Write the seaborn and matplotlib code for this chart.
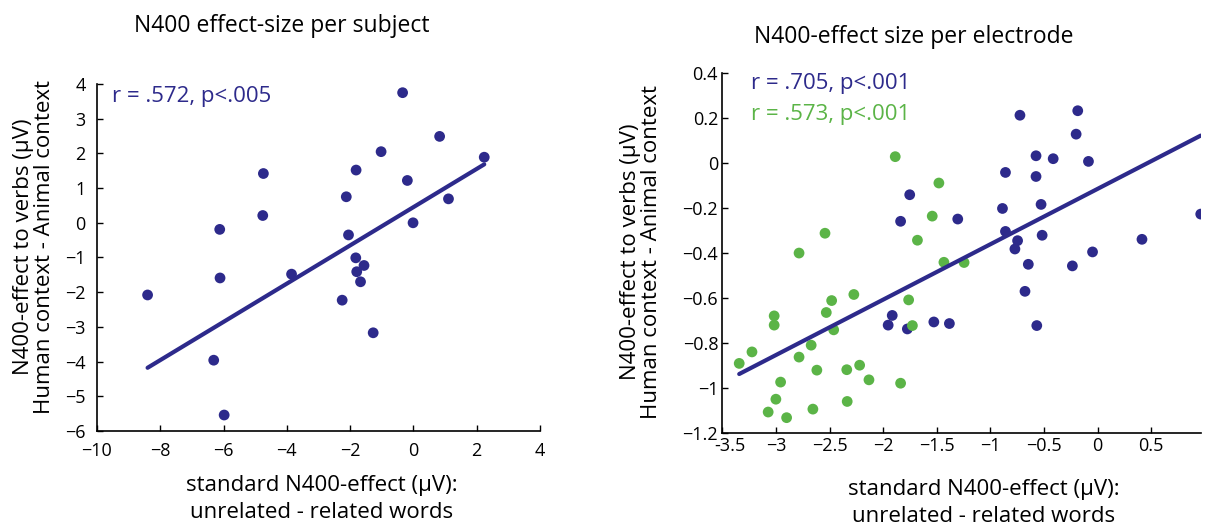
import matplotlib
matplotlib.use("Agg")
import matplotlib.pyplot as plt
import matplotlib.transforms as mtransforms
import seaborn as sns
import numpy as np
import pandas as pd

# ---------------- data ----------------
# Left panel: per subject
subj_x = [-0.34, 0.83, -1.02, 2.24, -4.74, -1.81, -0.19, -2.12, 1.11, -4.76, -0.01, -6.12,
          -2.05, -1.82, -1.56, -3.85, -1.79, -6.11, -1.67, -8.40, -2.25, -1.27, -6.31, -5.98]
subj_y = [3.75, 2.49, 2.05, 1.89, 1.42, 1.52, 1.22, 0.75, 0.69, 0.21, 0.00, -0.19,
          -0.35, -1.01, -1.23, -1.48, -1.41, -1.59, -1.70, -2.08, -2.23, -3.17, -3.96, -5.54]
subj_fit = [0.551, 0.45]  # slope, intercept

# Right panel: per electrode (two groups)
elec_blue_x = [-0.724, -0.185, -0.200, -0.574, -0.414, -0.085, -0.859, -0.574, -1.752, -0.887,
               -0.527, -1.837, -1.304, -0.859, -0.517, -0.746, -0.771, -0.047, 0.414, 0.962,
               -0.646, -0.235, -0.677, -1.915, -1.953, -1.527, -1.382, -1.774, -0.567]
elec_blue_y = [0.211, 0.231, 0.127, 0.031, 0.018, 0.006, -0.043, -0.061, -0.142, -0.203,
               -0.185, -0.260, -0.250, -0.305, -0.322, -0.346, -0.383, -0.396, -0.340, -0.228,
               -0.451, -0.458, -0.571, -0.678, -0.721, -0.707, -0.714, -0.738, -0.723]
elec_green_x = [-1.887, -1.480, -1.542, -2.542, -1.680, -2.784, -1.433, -1.245, -2.273, -2.480,
                -1.762, -2.530, -3.016, -3.016, -2.461, -1.727, -2.671, -3.223, -2.784, -3.342,
                -2.618, -2.339, -2.219, -2.132, -1.837, -2.956, -3.000, -2.335, -2.655, -3.072,
                -2.900]
elec_green_y = [0.027, -0.090, -0.237, -0.313, -0.344, -0.401, -0.442, -0.443, -0.585, -0.612,
                -0.609, -0.665, -0.680, -0.721, -0.742, -0.723, -0.810, -0.840, -0.863, -0.891,
                -0.921, -0.919, -0.899, -0.964, -0.979, -0.974, -1.050, -1.060, -1.094, -1.107,
                -1.132]
elec_fit = [0.246, -0.116]  # slope, intercept

left_title = "N400 effect-size per subject"
right_title = "N400-effect size per electrode"
ylabel = "N400-effect to verbs (\u03bcV)\nHuman context - Animal context"
xlabel = "standard N400-effect (\u03bcV):\nunrelated - related words"
left_stat = "r = .572, p<.005"
right_stat_blue = "r = .705, p<.001"
right_stat_green = "r = .573, p<.001"

left_xticks = [-10, -8, -6, -4, -2, 0, 2, 4]
left_xticklabels = ["\u221210", "\u22128", "\u22126", "\u22124", "\u22122", "0", "2", "4"]
left_yticks = [4, 3, 2, 1, 0, -1, -2, -3, -4, -5, -6]
left_yticklabels = ["4", "3", "2", "1", "0", "\u22121", "\u22122", "\u22123", "\u22124", "\u22125", "\u22126"]
right_xticks = [-3.5, -3, -2.5, -2, -1.5, -1, -0.5, 0, 0.5]
right_xticklabels = ["-3.5", "\u22123", "\u22122.5", "\u22122", "\u22121.5", "\u22121", "\u22120.5", "0", "0.5"]
right_yticks = [0.4, 0.2, 0, -0.2, -0.4, -0.6, -0.8, -1, -1.2]
right_yticklabels = ["0.4", "0.2", "0", "\u22120.2", "\u22120.4", "\u22120.6", "\u22120.8", "\u22121", "\u22121.2"]

# ---------------- style ----------------
sns.set_theme(style="ticks")
plt.rcParams["font.family"] = ["Open Sans", "DejaVu Sans"]
plt.rcParams["axes.unicode_minus"] = True
plt.rcParams["text.color"] = "black"
plt.rcParams["xtick.color"] = "black"
plt.rcParams["ytick.color"] = "black"

NAVY = "#2d2a8b"
GREEN = "#5bb447"

fig = plt.figure(figsize=(12.06, 5.27), dpi=100)
axL = fig.add_axes([0.0804, 0.1822, 0.3673, 0.6584])
axR = fig.add_axes([0.5989, 0.1784, 0.3970, 0.6837])

def style_axis(ax, xpad, ypad):
    sns.despine(ax=ax)
    for s in ("left", "bottom"):
        ax.spines[s].set_linewidth(1.2)
        ax.spines[s].set_color("black")
    ax.tick_params(direction="in", length=4, width=1.0, colors="black", labelsize=13)
    ax.tick_params(axis="x", pad=xpad)
    ax.tick_params(axis="y", pad=ypad)

# Left panel
dfL = pd.DataFrame({"x": subj_x, "y": subj_y})
sns.scatterplot(data=dfL, x="x", y="y", ax=axL, color=NAVY, s=60, edgecolor="none", zorder=3)
lx = np.array([min(subj_x), max(subj_x)])
sns.lineplot(x=lx, y=subj_fit[0] * lx + subj_fit[1], ax=axL, color=NAVY, linewidth=3.0, zorder=4)
axL.set_xlim(-10, 4)
axL.set_ylim(-6, 4)
axL.set_xticks(left_xticks)
axL.set_xticklabels(left_xticklabels)
axL.set_yticks(left_yticks)
axL.set_yticklabels(left_yticklabels)
axL.set_xlabel("")
axL.set_ylabel("")
style_axis(axL, xpad=8, ypad=8)
axL.text(0.035, 0.965, left_stat, transform=axL.transAxes, color=NAVY, fontsize=16,
         ha="left", va="center")

# Right panel
dfR = pd.DataFrame({"x": elec_blue_x + elec_green_x,
                    "y": elec_blue_y + elec_green_y,
                    "grp": ["blue"] * len(elec_blue_x) + ["green"] * len(elec_green_x)})
sns.scatterplot(data=dfR, x="x", y="y", hue="grp", palette={"blue": NAVY, "green": GREEN},
                ax=axR, s=60, edgecolor="none", legend=False, zorder=3)
allx = elec_blue_x + elec_green_x
rx = np.array([min(allx), max(allx)])
sns.lineplot(x=rx, y=elec_fit[0] * rx + elec_fit[1], ax=axR, color=NAVY, linewidth=3.0, zorder=4)
axR.set_xlim(-3.5, 0.965)
axR.set_ylim(-1.2, 0.4)
axR.set_xticks(right_xticks)
axR.set_xticklabels(right_xticklabels)
axR.set_yticks(right_yticks)
axR.set_yticklabels(right_yticklabels)
axR.set_xlabel("")
axR.set_ylabel("")
style_axis(axR, xpad=3, ypad=3)
# nudge the first x tick label right so it clears the lowest y tick label
first = axR.get_xticklabels()[0]
first.set_transform(first.get_transform() + mtransforms.ScaledTranslation(8 / 100, 0, fig.dpi_scale_trans))
axR.text(0.06, 0.97, right_stat_blue, transform=axR.transAxes, color=NAVY, fontsize=16,
         ha="left", va="center")
axR.text(0.06, 0.885, right_stat_green, transform=axR.transAxes, color=GREEN, fontsize=16,
         ha="left", va="center")

# Titles and labels as figure text
fig.text(282 / 1206, 1 - 26 / 527, left_title, ha="center", va="center", fontsize=16.5)
fig.text(914 / 1206, 1 - 37 / 527, right_title, ha="center", va="center", fontsize=16.5)
fig.text(34 / 1206, 1 - 247 / 527, ylabel, rotation=90, ha="center", va="center",
         fontsize=16, linespacing=1.0)
fig.text(641 / 1206, 1 - 252 / 527, ylabel, rotation=90, ha="center", va="center",
         fontsize=16, linespacing=1.0)
fig.text(322 / 1206, 1 - 499 / 527, xlabel, ha="center", va="center", fontsize=16,
         linespacing=1.35)
fig.text(984 / 1206, 1 - 503 / 527, xlabel, ha="center", va="center", fontsize=16,
         linespacing=1.35)

fig.savefig("out.png", dpi=100)
